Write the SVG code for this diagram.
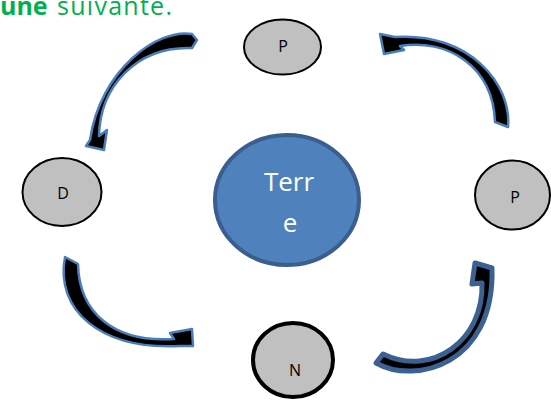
<svg xmlns="http://www.w3.org/2000/svg" width="551" height="400" viewBox="0 0 551 400">
  <style>
    .phase { fill: #c0c0c0; stroke: #000; stroke-width: 2; }
    .phase-thick { fill: #c0c0c0; stroke: #000; stroke-width: 4; }
    .lbl { font-family: "Open Sans", "Liberation Sans", sans-serif; font-size: 16px; fill: #000; text-anchor: middle; }
    .earth { fill: #4f81bd; stroke: #3a5f8f; stroke-width: 4; }
    .earth-lbl { font-family: "Open Sans", "Liberation Sans", sans-serif; font-size: 26px; fill: #fff; text-anchor: middle; }
    .arrow { fill: #000; stroke: #4a7ebb; stroke-width: 2.5; stroke-linejoin: round; }
    .arrow-dark { fill: #000; stroke: #3b6092; stroke-width: 5; stroke-linejoin: round; }
    .title { font-family: "Open Sans", "Liberation Sans", sans-serif; font-size: 25px; fill: #00b050; }
  </style>

  <!-- heading line, partly cut off at the top edge -->
  <text class="title" x="0" y="15"><tspan font-weight="bold">une</tspan></text>
  <text class="title" x="57" y="15" textLength="115" lengthAdjust="spacing">suivante.</text>

  <!-- curved arrows between the phases -->
  <g id="connectors">
    <path class="arrow" d="M192,34 C158,28 100,70 90,140 L86,146 L104,150 L107,130 L99,136 C100,87 136,46 192,48 L197,40 Z"/>
    <path class="arrow" d="M508,127 C512,85 470,32 395,37 L380,34 L384,54 L404,50 L400,46 C447,38 493,66 495,122 Z"/>
    <path class="arrow" d="M65,257 C55,310 100,350 180,346 L193,346 L192,329 L170,333 L174,339 C113,343 79,312 78,264 Z"/>
    <path class="arrow-dark" d="M376,363 C415,385 495,365 492,268 L475,263 L472,284 L482,283 C484,340 432,378 383,354 Z"/>
  </g>

  <g id="earth">
    <ellipse class="earth" cx="287" cy="200" rx="72" ry="65"/>
    <text class="earth-lbl" x="289" y="191">Terr</text>
    <text class="earth-lbl" x="290" y="232">e</text>
  </g>

  <g id="phase-top">
    <ellipse class="phase" cx="282.5" cy="47" rx="38.5" ry="27.5"/>
    <text class="lbl" x="283" y="52">P</text>
  </g>

  <g id="phase-left">
    <ellipse class="phase" cx="62" cy="192" rx="39.5" ry="34"/>
    <text class="lbl" x="63" y="199">D</text>
  </g>

  <g id="phase-right">
    <ellipse class="phase" cx="512.5" cy="195" rx="37.5" ry="34.5"/>
    <text class="lbl" x="515" y="203">P</text>
  </g>

  <g id="phase-bottom">
    <ellipse class="phase-thick" cx="293" cy="360" rx="40" ry="37"/>
    <text class="lbl" x="295" y="376">N</text>
  </g>
</svg>
